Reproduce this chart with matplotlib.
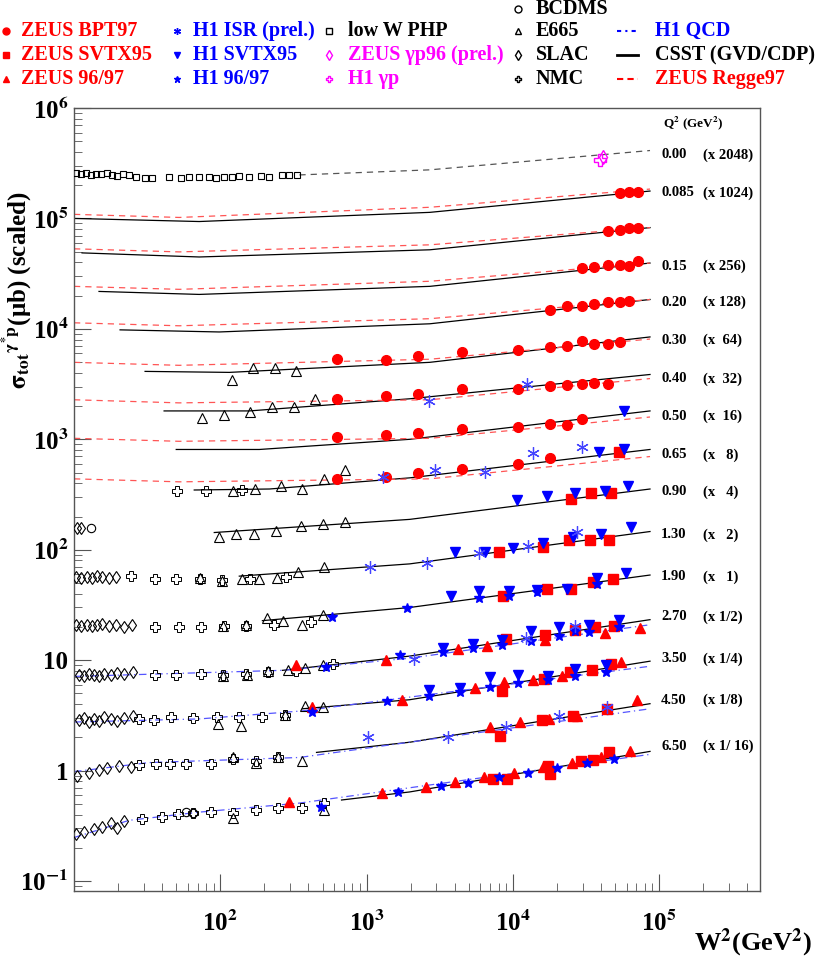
import numpy as np
import matplotlib
matplotlib.use("Agg")
import matplotlib.pyplot as plt

plt.rcParams['font.family'] = ['Liberation Serif', 'DejaVu Serif']
plt.rcParams['font.weight'] = 'bold'
plt.rcParams['mathtext.fontset'] = 'stix'

RED = '#ff0000'; BLUE = '#0000ff'; MAG = '#ff00ff'

# ---------------- data (log10 W^2, log10 scaled sigma) ----------------
q2_labels = ['0.00', '0.085', '0.15', '0.20', '0.30', '0.40', '0.50', '0.65', '0.90',
             '1.30', '1.90', '2.70', '3.50', '4.50', '6.50']
scale_labels = ['(x 2048)', '(x 1024)', '(x 256)', '(x 128)', '(x  64)', '(x  32)', '(x  16)',
                '(x   8)', '(x   4)', '(x   2)', '(x   1)', '(x 1/2)', '(x 1/4)', '(x 1/8)', '(x 1/ 16)']
label_y_px = [155, 193, 266, 302, 340, 379, 416, 455, 492, 535, 577, 617, 659, 700, 746]

# CSST (GVD/CDP) solid curves
csst_x = [[1.0, 1.856, 3.432, 4.938], [1.055, 1.856, 3.432, 4.938], [1.171, 1.856, 3.432, 4.938],
          [1.315, 1.993, 3.432, 4.938], [1.486, 2.062, 3.432, 4.938], [1.616, 2.199, 3.295, 4.938],
          [1.699, 2.267, 3.295, 4.938], [1.822, 2.336, 3.295, 4.938], [1.959, 3.295, 4.938],
          [2.130, 3.295, 4.938], [2.288, 3.295, 4.938], [2.425, 3.295, 4.938], [2.562, 3.295, 4.938],
          [2.658, 3.295, 4.938], [2.829, 3.295, 4.938]]
csst_y = [[5.0, 4.972, 5.055, 5.248], [4.688, 4.651, 4.716, 4.917], [4.339, 4.312, 4.385, 4.596],
          [3.991, 3.972, 4.046, 4.266], [3.615, 3.606, 3.697, 3.927], [3.257, 3.257, 3.367, 3.587],
          [2.908, 2.908, 3.0, 3.257], [2.541, 2.550, 2.651, 2.908], [2.156, 2.275, 2.550],
          [1.761, 1.872, 2.165], [1.358, 1.477, 1.771], [0.908, 1.037, 1.367], [0.560, 0.642, 0.991],
          [0.165, 0.257, 0.606], [-0.266, -0.193, 0.174]]

# ZEUS Regge97 dashed curves
regge_x = [1.0, 1.719, 3.432, 4.938]
regge_y = [[5.037, 5.009, 5.101, 5.266], [4.725, 4.697, 4.761, 4.917], [4.385, 4.358, 4.431, 4.596],
           [4.055, 4.028, 4.092, 4.266], [3.697, 3.670, 3.725, 3.908], [3.358, 3.330, 3.358, 3.550],
           [3.009, 2.982, 3.009, 3.202], [2.642, 2.615, 2.642, 2.844]]

# photoproduction dashed curve (Q2 = 0)
php_curve_x = [2.541, 3.432, 4.938]
php_curve_y = [5.394, 5.440, 5.615]

# H1 QCD dash-dotted curves
qcd_x = [[1.0, 2.425, 3.295, 4.938], [1.0, 1.856, 2.562, 4.938], [1.0, 1.514, 2.541, 4.938],
         [1.0, 1.377, 1.856, 2.541, 4.938]]
qcd_y = [[0.853, 0.908, 1.018, 1.321], [0.440, 0.468, 0.541, 0.945], [-0.009, 0.073, 0.119, 0.560],
         [-0.606, -0.450, -0.376, -0.294, 0.147]]

# ZEUS BPT97
bpt_x = [4.733, 4.795, 4.856,
         4.651, 4.733, 4.795, 4.856,
         4.473, 4.555, 4.651, 4.733, 4.795, 4.856,
         4.253, 4.370, 4.473, 4.555, 4.651, 4.733, 4.795,
         2.795, 3.130, 3.349, 3.651, 4.034, 4.253, 4.370, 4.473, 4.555, 4.651, 4.733,
         2.795, 3.130, 3.349, 3.651, 4.034, 4.253, 4.370, 4.473, 4.555, 4.651,
         2.795, 3.130, 3.349, 3.651, 4.034, 4.253, 4.370, 4.473,
         2.795, 3.130, 3.349, 3.651, 4.034, 4.253]
bpt_y = [5.229, 5.239, 5.239,
         4.890, 4.899, 4.917, 4.917,
         4.550, 4.560, 4.578, 4.578, 4.569, 4.615,
         4.174, 4.211, 4.211, 4.229, 4.239, 4.239, 4.248,
         3.725, 3.716, 3.752, 3.789, 3.807, 3.835, 3.844, 3.890, 3.862, 3.862, 3.881,
         3.367, 3.394, 3.413, 3.459, 3.459, 3.486, 3.495, 3.505, 3.514, 3.505,
         3.018, 3.037, 3.055, 3.092, 3.110, 3.138, 3.128, 3.183,
         2.642, 2.661, 2.697, 2.734, 2.780, 2.835]

# H1 ISR (prel.)
isr_x = [3.425, 4.096, 3.110, 3.466, 3.808, 4.137, 4.473, 3.027,
         3.411, 3.767, 4.103, 4.438, 3.322, 4.089, 4.425, 3.007, 3.555, 3.952, 4.315, 4.644]
isr_y = [3.349, 3.505, 2.661, 2.725, 2.706, 2.872, 2.927, 1.844,
         1.881, 1.972, 2.037, 2.165, 1.009, 1.202, 1.312, 0.303, 0.303, 0.394, 0.495, 0.578]

# H1 SVTX95
svtx_h1_x = [4.760, 4.589, 4.760,
             4.027, 4.233, 4.425, 4.630, 4.788,
             3.603, 3.808, 4.0, 4.205, 4.411, 4.603, 4.808,
             3.575, 3.767, 3.973, 4.164, 4.370, 4.575, 4.774,
             3.521, 3.726, 3.925, 4.123, 4.315, 4.521, 4.726,
             3.425, 3.637, 3.842, 4.034, 4.240, 4.425, 4.637]
svtx_h1_y = [3.257, 2.881, 2.908,
             2.450, 2.486, 2.514, 2.532, 2.578,
             1.982, 1.982, 2.018, 2.064, 2.119, 2.147, 2.202,
             1.578, 1.624, 1.624, 1.633, 1.642, 1.743, 1.789,
             1.110, 1.147, 1.183, 1.266, 1.303, 1.321, 1.367,
             0.734, 0.752, 0.844, 0.862, 0.853, 0.917, 0.954]

# H1 96/97
h197_x = [2.767, 3.274, 3.767, 3.973, 4.164, 4.575,
          2.726, 3.226, 3.521, 3.726, 3.925, 4.123, 4.315, 4.425, 4.521, 4.726,
          2.630, 3.137, 3.425, 3.637, 3.842, 4.034, 4.240, 4.425, 4.637,
          2.692, 3.212, 3.507, 3.692, 3.904, 4.103, 4.301, 4.507, 4.692]
h197_y = [1.394, 1.477, 1.560, 1.578, 1.615, 1.688,
          0.936, 1.046, 1.073, 1.110, 1.138, 1.174, 1.220, 1.266, 1.257, 1.303,
          0.532, 0.633, 0.679, 0.716, 0.761, 0.789, 0.817, 0.853, 0.890,
          -0.330, -0.193, -0.138, -0.110, -0.055, -0.018, 0.028, 0.073, 0.101]

# ZEUS SVTX95
svtx_z_x = [4.726,
            4.397, 4.534, 4.671,
            3.904, 4.205, 4.384, 4.527, 4.658,
            3.932, 4.233, 4.397, 4.548, 4.685,
            3.952, 4.219, 4.425, 4.562, 4.692,
            3.925, 4.212, 4.390, 4.541, 4.671,
            3.911, 4.199, 4.411, 4.644,
            3.863, 3.959, 4.240, 4.253, 4.466, 4.548, 4.658]
svtx_z_y = [2.881,
            2.459, 2.514, 2.514,
            1.982, 2.027, 2.092, 2.092, 2.092,
            1.578, 1.642, 1.642, 1.706, 1.734,
            1.193, 1.229, 1.275, 1.303, 1.312,
            0.725, 0.826, 0.890, 0.908, 0.963,
            0.312, 0.459, 0.495, 0.560,
            -0.073, -0.073, 0.046, -0.028, 0.083, 0.092, 0.165]

# ZEUS 96/97
z9697_x = [2.521, 3.130, 3.623, 3.822, 4.219, 4.630, 4.870,
           2.630, 3.240, 3.740, 3.938, 4.137, 4.336, 4.740,
           3.842, 4.048, 4.247, 4.438, 4.849,
           2.473, 3.103, 3.404, 3.603, 3.801, 4.007, 4.205, 4.404, 4.603, 4.801]
z9697_y = [0.954, 1.000, 1.101, 1.128, 1.183, 1.248, 1.294,
           0.578, 0.642, 0.752, 0.798, 0.817, 0.853, 0.982,
           0.394, 0.440, 0.468, 0.495, 0.642,
           -0.284, -0.202, -0.147, -0.101, -0.055, -0.018, 0.037, 0.073, 0.119, 0.174]

# low W PHP (Q2 = 0)
php_x = [1.014, 1.048, 1.082, 1.116, 1.151, 1.185, 1.226, 1.260, 1.295, 1.336, 1.377, 1.425, 1.486,
         1.534, 1.651, 1.733, 1.788, 1.856, 1.925, 1.973, 2.027, 2.082, 2.130, 2.199, 2.281, 2.336,
         2.425, 2.473, 2.527]
php_y = [5.413, 5.404, 5.413, 5.394, 5.404, 5.404, 5.413, 5.394, 5.385, 5.404, 5.394, 5.376, 5.367,
         5.367, 5.376, 5.367, 5.376, 5.376, 5.376, 5.367, 5.376, 5.376, 5.385, 5.376, 5.385, 5.376,
         5.394, 5.394, 5.394]

# ZEUS gp96 (prel.) and H1 gp
zgp_x = [4.616]; zgp_y = [5.560]
h1gp_x = [4.596]; h1gp_y = [5.532]

# E665
e665_x = [2.082, 2.226, 2.377, 2.521,
          1.877, 2.027, 2.205, 2.356, 2.507, 2.651,
          2.089, 2.240, 2.418, 2.562, 2.712, 2.856,
          1.993, 2.110, 2.233, 2.384, 2.555, 2.705, 2.856,
          1.863, 2.014, 2.151, 2.267, 2.390, 2.534, 2.712,
          2.021, 2.178, 2.322, 2.432, 2.562, 2.699,
          2.021, 2.185, 2.329, 2.466, 2.582, 2.705,
          1.986, 2.144, 2.445, 2.582, 2.699,
          2.089, 2.247, 2.397, 2.562,
          2.089, 2.712]
e665_y = [3.541, 3.642, 3.642, 3.615,
          3.193, 3.220, 3.248, 3.294, 3.294, 3.367,
          2.532, 2.550, 2.578, 2.550, 2.642, 2.725,
          2.119, 2.147, 2.147, 2.174, 2.211, 2.229, 2.248,
          1.743, 1.716, 1.734, 1.734, 1.743, 1.798, 1.844,
          1.312, 1.321, 1.385, 1.358, 1.321, 1.413,
          0.853, 0.862, 0.899, 0.908, 0.927, 0.954,
          0.422, 0.404, 0.505, 0.587, 0.578,
          0.119, 0.073, 0.119, 0.083,
          -0.431, -0.358]

# NMC
nmc_x = [1.705, 1.904, 2.151,
         1.390, 1.555, 1.699, 1.863, 2.014, 2.205, 2.452,
         1.555, 1.719, 1.870, 2.027, 2.178, 2.370, 2.623,
         1.555, 1.699, 1.870, 2.021, 2.178, 2.329, 2.521, 2.774,
         1.445, 1.548, 1.664, 1.815, 1.979, 2.130, 2.288, 2.445,
         1.445, 1.562, 1.658, 1.767, 1.938, 2.089, 2.247, 2.397,
         1.466, 1.603, 1.712, 1.815, 1.938, 2.089, 2.247, 2.397, 2.562, 2.712]
nmc_y = [2.532, 2.532, 2.541,
         1.761, 1.734, 1.734, 1.734, 1.725, 1.734, 1.752,
         1.303, 1.303, 1.303, 1.312, 1.312, 1.321, 1.349,
         0.862, 0.862, 0.872, 0.862, 0.872, 0.890, 0.899, 0.963,
         0.468, 0.459, 0.486, 0.477, 0.486, 0.486, 0.486, 0.505,
         0.055, 0.064, 0.064, 0.064, 0.064, 0.101, 0.083, 0.119,
         -0.440, -0.422, -0.394, -0.385, -0.376, -0.385, -0.358, -0.339, -0.339, -0.294]

# SLAC
slac_x = [1.021, 1.05,
          1.014, 1.048, 1.089, 1.123, 1.158, 1.192, 1.240, 1.288,
          1.014, 1.048, 1.089, 1.123, 1.158, 1.192, 1.240, 1.288, 1.342, 1.397,
          1.034, 1.068, 1.103, 1.137, 1.171, 1.208, 1.253, 1.295, 1.342, 1.40,
          1.034, 1.068, 1.103, 1.137, 1.171, 1.208, 1.253, 1.295, 1.342, 1.40,
          1.021, 1.103, 1.171, 1.226, 1.308, 1.390,
          1.014, 1.068, 1.137, 1.192, 1.253, 1.295, 1.342]
slac_y = [2.193, 2.193,
          1.752, 1.743, 1.752, 1.743, 1.761, 1.752, 1.743, 1.752,
          1.321, 1.312, 1.321, 1.312, 1.321, 1.330, 1.312, 1.321, 1.303, 1.321,
          0.862, 0.853, 0.872, 0.862, 0.853, 0.872, 0.862, 0.881, 0.872, 0.890,
          0.459, 0.477, 0.440, 0.468, 0.450, 0.486, 0.468, 0.450, 0.477, 0.495,
          -0.046, -0.018, 0.009, 0.028, 0.046, 0.037,
          -0.578, -0.560, -0.532, -0.514, -0.477, -0.523, -0.459]

# BCDMS
bcdms_x = [1.116, 1.767, 1.815]
bcdms_y = [2.193, -0.376, -0.385]

# ---------------- plotting ----------------
fig = plt.figure(figsize=(8.17, 9.6), dpi=100)
ax = fig.add_axes([74/817, 1-891/960, (760-74)/817, (891-108)/960])
ax.set_xscale('log'); ax.set_yscale('log')
ax.set_xlim(10, 10**5.69)
ax.set_ylim(10**-1.09, 10**6.0)

P = lambda a: 10**np.asarray(a, dtype=float)

for xs, ys in zip(csst_x, csst_y):
    ax.plot(P(xs), P(ys), color='black', lw=0.9, zorder=2)
for ys in regge_y:
    ax.plot(P(regge_x), P(ys), color='#ff5555', lw=0.9, ls=(0, (5, 4)), zorder=2)
ax.plot(P(php_curve_x), P(php_curve_y), color='#555555', lw=0.9, ls=(0, (5, 4)), zorder=2)
for xs, ys in zip(qcd_x, qcd_y):
    ax.plot(P(xs), P(ys), color='#5555ff', lw=0.9, ls=(0, (6, 3, 1, 3)), zorder=2)

ax.plot(P(php_x), P(php_y), 's', mfc='none', mec='black', ms=5, mew=0.8, zorder=3)
ax.plot(P(e665_x), P(e665_y), '^', mfc='none', mec='black', ms=7, mew=0.8, zorder=3)
ax.plot(P(nmc_x), P(nmc_y), 'P', mfc='none', mec='black', ms=7, mew=0.7, zorder=3)
ax.plot(P(slac_x), P(slac_y), 'd', mfc='none', mec='black', ms=6, mew=0.8, zorder=3)
ax.plot(P(bcdms_x), P(bcdms_y), 'o', mfc='none', mec='black', ms=6, mew=0.8, zorder=3)
ax.plot(P(bpt_x), P(bpt_y), 'o', color=RED, ms=7, zorder=4)
ax.plot(P(svtx_z_x), P(svtx_z_y), 's', color=RED, ms=6.5, zorder=4)
ax.plot(P(z9697_x), P(z9697_y), '^', color=RED, ms=7, zorder=4)
ax.plot(P(svtx_h1_x), P(svtx_h1_y), 'v', color=BLUE, ms=7, zorder=4)
ax.plot(P(h197_x), P(h197_y), '*', color=BLUE, ms=7, zorder=4)
ax.plot(P(isr_x), P(isr_y), marker=(6, 2, 0), ls='none', color='#4444ff', ms=9, mew=0.9, zorder=4)
ax.plot(P(zgp_x), P(zgp_y), 'd', mfc='none', mec=MAG, ms=7, mew=1, zorder=4)
ax.plot(P(h1gp_x), P(h1gp_y), 'P', mfc='none', mec=MAG, ms=9, mew=1, zorder=4)

# axis styling
for s in ax.spines.values():
    s.set_color('#555555'); s.set_linewidth(1.0)
ax.tick_params(which='both', direction='in', top=False, right=False, colors='#555555',
               labelcolor='black', labelsize=18)
ax.tick_params(which='major', length=12)
ax.tick_params(which='minor', length=6)
ax.tick_params(axis='x', pad=14)
ax.tick_params(axis='y', pad=4)
ax.set_xticks([1e2, 1e3, 1e4, 1e5])
ax.set_xticklabels(['10$^{\\mathbf{2}}$', '10$^{\\mathbf{3}}$', '10$^{\\mathbf{4}}$', '10$^{\\mathbf{5}}$'])
ax.set_yticks([1e-1, 1, 10, 1e2, 1e3, 1e4, 1e5, 1e6])
ax.set_yticklabels(['10$^{\\mathbf{-1}}$', '1', '10', '10$^{\\mathbf{2}}$', '10$^{\\mathbf{3}}$',
                    '10$^{\\mathbf{4}}$', '10$^{\\mathbf{5}}$', '10$^{\\mathbf{6}}$'])
for lab in ax.get_xticklabels() + ax.get_yticklabels():
    lab.set_fontweight('bold')

fig.text(17/817, 1-290/960, '$\\mathbf{\\sigma_{tot}}$$^{\\mathbf{\\gamma^{*}p}}$(μb) (scaled)',
         rotation=90, ha='center', va='center', fontsize=18, fontweight='bold')
fig.text(812/817, 1-943/960, 'W$^{\\mathbf{2}}$(GeV$^{\\mathbf{2}}$)', ha='right', va='center',
         fontsize=19, fontweight='bold')

# right-hand labels
fig.text(663/817, 1-123/960, 'Q$^{\\mathbf{2}}$ (GeV$^{\\mathbf{2}}$)', fontsize=9.5,
         fontweight='bold', va='center')
for i, (q, s) in enumerate(zip(q2_labels, scale_labels)):
    yy = 1 - label_y_px[i]/960
    fig.text(661/817, yy, q, fontsize=10.5, fontweight='bold', va='center')
    fig.text(703/817, yy, s, fontsize=10.5, fontweight='bold', va='center')

# legend at top
def leg(xm, xt, y, text, color, marker=None, mfc=None, line=None):
    yf = 1 - y/960
    if marker is not None:
        fig.lines.append(plt.Line2D([xm/817], [yf], marker=marker, color=color,
                                    mfc=mfc if mfc is not None else color, mec=color,
                                    ms=5, ls='none', transform=fig.transFigure))
    if line is not None:
        fig.lines.append(plt.Line2D([617/817, 638/817], [yf, yf], color=color, lw=line[1],
                                    ls=line[0], transform=fig.transFigure))
    fig.text(xt/817, yf, text, color=color, fontsize=14.5, fontweight='bold', va='center')

leg(6, 21, 31, 'ZEUS BPT97', RED, 'o')
leg(6, 21, 55, 'ZEUS SVTX95', RED, 's')
leg(6, 21, 79, 'ZEUS 96/97', RED, '^')
leg(177, 193, 31, 'H1 ISR (prel.)', BLUE, (6, 2, 0))
leg(177, 193, 55, 'H1 SVTX95', BLUE, 'v')
leg(177, 193, 79, 'H1 96/97', BLUE, '*')
leg(329, 348, 31, 'low W PHP', 'black', 's', 'none')
leg(329, 348, 55, 'ZEUS γp96 (prel.)', MAG, 'd', 'none')
leg(329, 348, 79, 'H1 γp', MAG, 'P', 'none')
leg(518, 536, 9, 'BCDMS', 'black', 'o', 'none')
leg(518, 536, 31, 'E665', 'black', '^', 'none')
leg(518, 536, 55, 'SLAC', 'black', 'd', 'none')
leg(518, 536, 79, 'NMC', 'black', 'P', 'none')
leg(0, 655, 31, 'H1 QCD', BLUE, line=((0, (2, 2, 1, 2)), 1.5))
leg(0, 655, 55, 'CSST (GVD/CDP)', 'black', line=('-', 2))
leg(0, 655, 79, 'ZEUS Regge97', RED, line=((0, (3, 2)), 1.5))

fig.savefig('out.png', dpi=100)
